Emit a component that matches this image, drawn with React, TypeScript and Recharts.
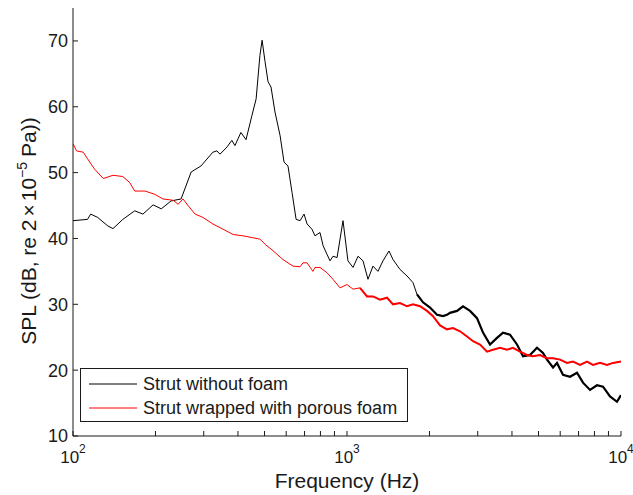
import React from "react";
import { LineChart, Line, XAxis, YAxis, Legend, Label } from "recharts";

// Strut without foam (black)
const bareFreq = [
  100, 113, 116, 123, 134, 140, 152, 168, 180, 196, 210, 228, 248, 270, 293, 324, 335, 344, 365, 380,
  390, 410, 428, 450, 466, 481, 490, 502, 515, 528, 546, 570, 589, 609, 630, 652, 674, 697, 715, 745,
  764, 797, 818, 845, 867, 889, 920, 967, 1008, 1052, 1097, 1144, 1193, 1244, 1297, 1353, 1423, 1472,
  1561, 1656, 1741, 1801, 1894, 2009, 2131, 2241, 2317, 2376, 2521, 2651, 2812, 2982, 3136, 3326,
  3528, 3710, 3934, 4173, 4389, 4655, 4937, 5192, 5370, 5647, 5840, 6142, 6515, 6910, 7266, 7707,
  8175, 8597, 9118, 9670, 10000,
];
const bareSpl = [
  42.7, 42.9, 43.7, 43.2, 41.9, 41.5, 42.9, 44.2, 43.7, 45.1, 44.5, 45.7, 46.0, 50.1, 51.0, 53.1, 53.3,
  52.8, 53.9, 54.9, 54.1, 56.1, 55.0, 58.7, 61.2, 67.8, 70.1, 66.9, 63.8, 63.0, 59.2, 55.6, 51.6, 51.0,
  47.0, 42.9, 42.7, 43.7, 42.2, 41.4, 40.4, 40.9, 38.9, 37.6, 36.6, 37.3, 37.1, 42.7, 36.6, 35.6, 37.3,
  36.6, 33.8, 35.8, 35.0, 36.6, 38.1, 36.8, 35.3, 34.3, 33.3, 31.5, 30.3, 29.5, 28.4, 28.2, 28.4, 28.7,
  29.0, 29.7, 29.0, 27.9, 25.7, 23.9, 24.9, 25.7, 25.4, 23.9, 22.1, 22.3, 23.4, 22.6, 21.6, 20.4, 21.1,
  19.3, 19.0, 19.6, 18.1, 17.0, 17.7, 17.5, 16.0, 15.2, 16.2,
];

// Strut wrapped with porous foam (red)
const foamFreq = [
  100, 103, 109, 113, 120, 129, 140, 152, 161, 168, 183, 199, 213, 232, 242, 252, 263, 279, 298, 324,
  353, 384, 417, 454, 481, 506, 528, 584, 635, 674, 691, 715, 751, 764, 797, 845, 889, 943, 1000, 1052,
  1115, 1183, 1244, 1320, 1400, 1472, 1561, 1656, 1741, 1847, 1959, 2060, 2185, 2317, 2437, 2585, 2742,
  2884, 3058, 3243, 3411, 3618, 3836, 4035, 4279, 4539, 4774, 5063, 5370, 5647, 5990, 6353, 6681, 7087,
  7515, 7904, 8383, 8891, 9350, 10000,
];
const foamSpl = [
  54.4, 53.3, 53.1, 52.1, 50.5, 49.1, 49.6, 49.4, 48.5, 47.2, 47.2, 46.7, 46.0, 45.8, 45.2, 46.0, 45.0,
  43.7, 43.2, 42.2, 41.4, 40.6, 40.4, 40.1, 39.9, 39.0, 38.4, 36.8, 35.8, 35.7, 36.3, 36.3, 35.0, 35.6,
  35.6, 34.8, 33.8, 32.5, 33.0, 32.3, 32.5, 31.2, 31.2, 30.7, 31.0, 30.0, 30.2, 29.7, 30.0, 29.7, 29.0,
  28.2, 26.8, 26.2, 26.4, 25.9, 25.1, 24.4, 23.9, 22.8, 23.1, 23.4, 23.1, 23.4, 22.8, 22.3, 22.1, 22.3,
  21.8, 21.8, 21.6, 21.1, 21.3, 20.8, 21.3, 20.8, 21.1, 20.8, 21.1, 21.3,
];

const xTicks = [
  100, 200, 300, 400, 500, 600, 700, 800, 900, 1000, 2000, 3000, 4000, 5000, 6000, 7000, 8000, 9000, 10000,
];
const xMajor = [100, 1000, 10000];
const yTicks = [10, 20, 30, 40, 50, 60, 70];

const bareData = bareFreq.map((f, i) => ({ f, spl: bareSpl[i] }));
const foamData = foamFreq.map((f, i) => ({ f, spl: foamSpl[i] }));
// the noisy high-frequency end of each spectrum is drawn again with a heavier stroke
const bareNoisy = bareData.filter((d) => d.f >= 1750);
const foamNoisy = foamData.filter((d) => d.f >= 1100);

const FONT = "'Liberation Sans', Arial, Helvetica, sans-serif";
const INK = "#1a1a1a";
const TICK_LEN = 5;

const BottomTick = ({ x, y, payload }: any) => {
  const v = payload.value;
  const major = xMajor.includes(v);
  return (
    <g>
      <line x1={x} x2={x} y1={y} y2={y - TICK_LEN} stroke={INK} />
      {major && (
        <text x={x} y={y + 27} textAnchor="middle" fontFamily={FONT} fontSize={17} fill={INK}>
          10
          <tspan dy={-10} fontSize={12}>
            {Math.round(Math.log10(v))}
          </tspan>
        </text>
      )}
    </g>
  );
};

const TopTick = ({ x, y }: any) => (
  <line x1={x} x2={x} y1={y} y2={y + TICK_LEN} stroke={INK} />
);

const LeftTick = ({ x, y, payload }: any) => (
  <g>
    <line x1={x} x2={x + TICK_LEN} y1={y} y2={y} stroke={INK} />
    <text x={x - 5} y={y} dy="0.36em" textAnchor="end" fontFamily={FONT} fontSize={18} fill={INK}>
      {payload.value}
    </text>
  </g>
);

const RightTick = ({ x, y }: any) => (
  <line x1={x} x2={x - TICK_LEN} y1={y} y2={y} stroke={INK} />
);

const LegendBox = ({ payload }: any) => (
  <div
    style={{
      width: 328,
      height: 54,
      boxSizing: "border-box",
      border: `1px solid ${INK}`,
      background: "#fff",
      paddingTop: 3,
      fontFamily: FONT,
      fontSize: 18,
      color: INK,
    }}
  >
    {(payload || [])
      .filter((p: any) => p.type !== "none")
      .map((p: any) => (
        <div key={p.value} style={{ display: "flex", alignItems: "center", height: 24 }}>
          <svg width={58} height={4} style={{ flex: "none" }}>
            <line x1={8} x2={56} y1={2} y2={2} stroke={p.color} strokeWidth={1} />
          </svg>
          <span style={{ marginLeft: 4, whiteSpace: "nowrap" }}>{p.value}</span>
        </div>
      ))}
  </div>
);

export default function App() {
  return (
    <div style={{ position: "absolute", left: 0, top: 0, background: "#fff" }}>
      <LineChart width={633} height={495} margin={{ top: 8, right: 12, bottom: 0, left: 0 }}>
        <XAxis
          xAxisId="bottom"
          dataKey="f"
          type="number"
          scale="log"
          domain={[100, 10000]}
          ticks={xTicks}
          interval={0}
          height={59}
          tickSize={0}
          tickMargin={0}
          tickLine={false}
          axisLine={{ stroke: INK }}
          tick={<BottomTick />}
          allowDataOverflow
        >
          <Label
            content={({ viewBox }: any) => (
              <text
                x={viewBox.x + viewBox.width / 2}
                y={viewBox.y + 52}
                textAnchor="middle"
                fontFamily={FONT}
                fontSize={21}
                fill={INK}
              >
                Frequency (Hz)
              </text>
            )}
          />
        </XAxis>
        <XAxis
          xAxisId="top"
          orientation="top"
          type="number"
          scale="log"
          domain={[100, 10000]}
          ticks={xTicks}
          interval={0}
          height={0}
          tickSize={0}
          tickMargin={0}
          tickLine={false}
          axisLine={{ stroke: INK }}
          tick={<TopTick />}
          allowDataOverflow
        />
        <YAxis
          yAxisId="left"
          type="number"
          domain={[10, 75]}
          ticks={yTicks}
          interval={0}
          width={73}
          tickSize={0}
          tickMargin={0}
          tickLine={false}
          axisLine={{ stroke: INK }}
          tick={<LeftTick />}
          allowDataOverflow
        >
          <Label
            content={({ viewBox }: any) => (
              <text
                transform={`translate(36, ${viewBox.y + viewBox.height / 2 + 9}) rotate(-90)`}
                textAnchor="middle"
                fontFamily={FONT}
                fontSize={21}
                fill={INK}
              >
                SPL (dB, re 2
                <tspan dx={3}>×</tspan>
                <tspan dx={3}>10</tspan>
                <tspan dy={-9} fontSize={14}>
                  −5
                </tspan>
                <tspan dy={9} dx={5}>
                  Pa))
                </tspan>
              </text>
            )}
          />
        </YAxis>
        <YAxis
          yAxisId="right"
          orientation="right"
          type="number"
          domain={[10, 75]}
          ticks={yTicks}
          interval={0}
          width={0}
          tickSize={0}
          tickMargin={0}
          tickLine={false}
          axisLine={{ stroke: INK }}
          tick={<RightTick />}
          allowDataOverflow
        />
        <Legend
          layout="horizontal"
          align="center"
          verticalAlign="middle"
          content={<LegendBox />}
          wrapperStyle={{ left: 80, top: 368, width: 328, height: 54 }}
        />
        <Line
          xAxisId="bottom"
          yAxisId="left"
          data={bareData}
          dataKey="spl"
          name="Strut without foam"
          stroke="#000000"
          strokeWidth={1}
          dot={false}
          type="linear"
          isAnimationActive={false}
        />
        <Line
          xAxisId="bottom"
          yAxisId="left"
          data={bareNoisy}
          dataKey="spl"
          name="bare-noisy"
          legendType="none"
          stroke="#000000"
          strokeWidth={2.2}
          dot={false}
          type="linear"
          isAnimationActive={false}
        />
        <Line
          xAxisId="bottom"
          yAxisId="left"
          data={foamData}
          dataKey="spl"
          name="Strut wrapped with porous foam"
          stroke="#ff0000"
          strokeWidth={1}
          dot={false}
          type="linear"
          isAnimationActive={false}
        />
        <Line
          xAxisId="bottom"
          yAxisId="left"
          data={foamNoisy}
          dataKey="spl"
          name="foam-noisy"
          legendType="none"
          stroke="#ff0000"
          strokeWidth={2}
          dot={false}
          type="linear"
          isAnimationActive={false}
        />
      </LineChart>
    </div>
  );
}
